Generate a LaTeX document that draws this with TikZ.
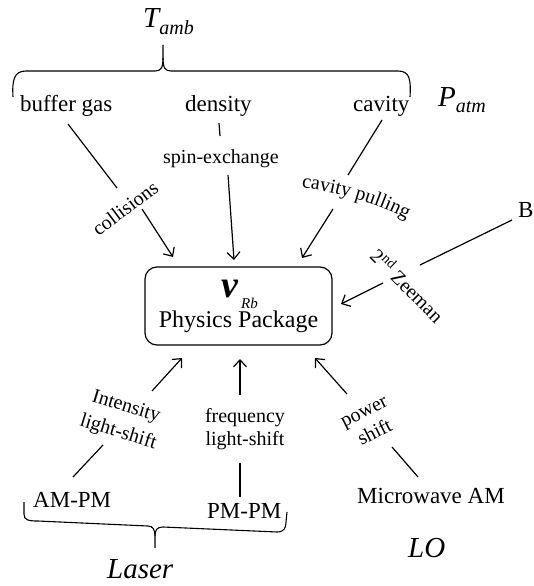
\documentclass[tikz,border=0pt]{standalone}
\usepackage{fontspec}
\setmainfont{Liberation Serif}
\usetikzlibrary{arrows.meta,decorations.text}
\begin{document}
\begin{tikzpicture}[x=1pt,y=-1pt,
  conn/.style={line width=1.2pt},
  arr/.style={line width=1.2pt,-{Straight Barb[length=7pt,width=13pt]}},
  brace/.style={line width=1.1pt},
  txt/.style={font=\fontsize{23}{27}\selectfont, inner sep=0pt, anchor=base west},
  lbl/.style={font=\fontsize{20}{24}\selectfont, inner sep=0pt},
  big/.style={font=\fontsize{29}{33}\selectfont\itshape, inner sep=0pt, anchor=base west}]
\useasboundingbox (0,0) rectangle (533,586);

% top group
\node[big] (tamb) at (143,28) {T\raisebox{-7pt}{\fontsize{20}{24}\selectfont amb}};
\node[big] (patm) at (438,106) {P\raisebox{-6pt}{\fontsize{20}{24}\selectfont atm}};
\node[txt] (bg) at (20,111) {buffer gas};
\node[txt] (dens) at (185,111) {density};
\node[txt] (cav) at (353,111) {cavity};
\node[txt] (bf) at (518,217) {B};

% labels
\node[lbl, anchor=base west] (spin) at (163,163) {spin-exchange};
\node[lbl, rotate=37] (coll) at (125,208) {collisions};
\path[decorate, decoration={text along path, text align=center,
  text={|\fontsize{20}{24}\selectfont|cavity pulling}}]
  (298,187) .. controls (330,191) and (372,200) .. (410,221);
\node[lbl, rotate=-45] (zee) at (408,285) {2\textsuperscript{nd} Zeeman};

% box
\node[draw, conn, rounded corners=12pt, minimum width=187pt, minimum height=78pt, inner sep=0pt] (pp) at (238.5,306) {};
\node[inner sep=0pt, anchor=base west] (nu) at (221,297) {\fontsize{38}{42}\selectfont\bfseries\itshape ν};
\node[inner sep=0pt, anchor=base west] (rb) at (241,308) {\fontsize{15}{18}\selectfont\itshape Rb};
\node[txt, anchor=base, font=\fontsize{24}{28}\selectfont] (phys) at (238.5,327) {Physics Package};

% bottom labels
\node[lbl, rotate=-17, align=center, font=\fontsize{20}{27}\selectfont] (ils) at (122,420) {Intensity\\light-shift};
\node[lbl, align=center, font=\fontsize{20}{23}\selectfont] (fls) at (245,429) {frequency\\light-shift};
\node[lbl, rotate=27, align=center, font=\fontsize{20}{24}\selectfont] (ps) at (370,423) {power\\shift};

\node[txt] (ampm) at (33,507) {AM-PM};
\node[txt] (pmpm) at (207,518) {PM-PM};
\node[txt] (mw) at (357,503) {Microwave AM};
\node[big] (laser) at (107,578) {Laser};
\node[big] (lo) at (408,557) {LO};

% connector end points
\coordinate (bg1) at (68,124);   \coordinate (bg2) at (117,188);
\coordinate (co1) at (142,209);  \coordinate (co2) at (173,257);
\coordinate (de1) at (219,123);  \coordinate (de2) at (220,136);
\coordinate (sp1) at (228,175);  \coordinate (sp2) at (234,260);
\coordinate (ca1) at (382,120);  \coordinate (ca2) at (348,175);
\coordinate (cp1) at (333,209);  \coordinate (cp2) at (302,258);
\coordinate (b1) at (512,220);   \coordinate (b2) at (420,265);
\coordinate (ze1) at (383,283);  \coordinate (ze2) at (341,304);
\coordinate (il1) at (152,391);  \coordinate (il2) at (182,358);
\coordinate (fl1) at (240,395);  \coordinate (fl2) at (240,359);
\coordinate (pw1) at (347,394);  \coordinate (pw2) at (315,358);
\coordinate (am1) at (73,477);   \coordinate (am2) at (103,445);
\coordinate (pm1) at (240,497);  \coordinate (pm2) at (240,463);
\coordinate (mw1) at (418,477);  \coordinate (mw2) at (392,447);

\draw[conn] (bg1) -- (bg2);
\draw[arr] (co1) -- (co2);
\draw[conn] (de1) -- (de2);
\draw[arr] (sp1) -- (sp2);
\draw[conn] (ca1) -- (ca2);
\draw[arr] (cp1) -- (cp2);
\draw[conn] (b1) -- (b2);
\draw[arr] (ze1) -- (ze2);
\draw[arr] (il1) -- (il2);
\draw[arr] (fl1) -- (fl2);
\draw[arr] (pw1) -- (pw2);
\draw[conn] (am1) -- (am2);
\draw[conn] (pm1) -- (pm2);
\draw[conn] (mw1) -- (mw2);

% braces
\draw[brace] (13,97) .. controls (12,80) and (14,71) .. (26,71) -- (155,71)
  .. controls (161,71) and (163,68) .. (163,58) -- (163,45);
\draw[brace] (163,58) .. controls (163,68) and (165,71) .. (171,71) -- (398,71)
  .. controls (410,71) and (411,80) .. (410,97);
\draw[brace] (24,502) -- (24,514) .. controls (24,520) and (28,521) .. (38,521)
  -- (148,526) .. controls (153,526) and (155,530) .. (155,536) -- (155,548);
\draw[brace] (155,536) .. controls (155,530) and (157,527) .. (163,527)
  -- (277,532) .. controls (284,532) and (286,528) .. (286,522) -- (287,512);
\end{tikzpicture}
\end{document}
